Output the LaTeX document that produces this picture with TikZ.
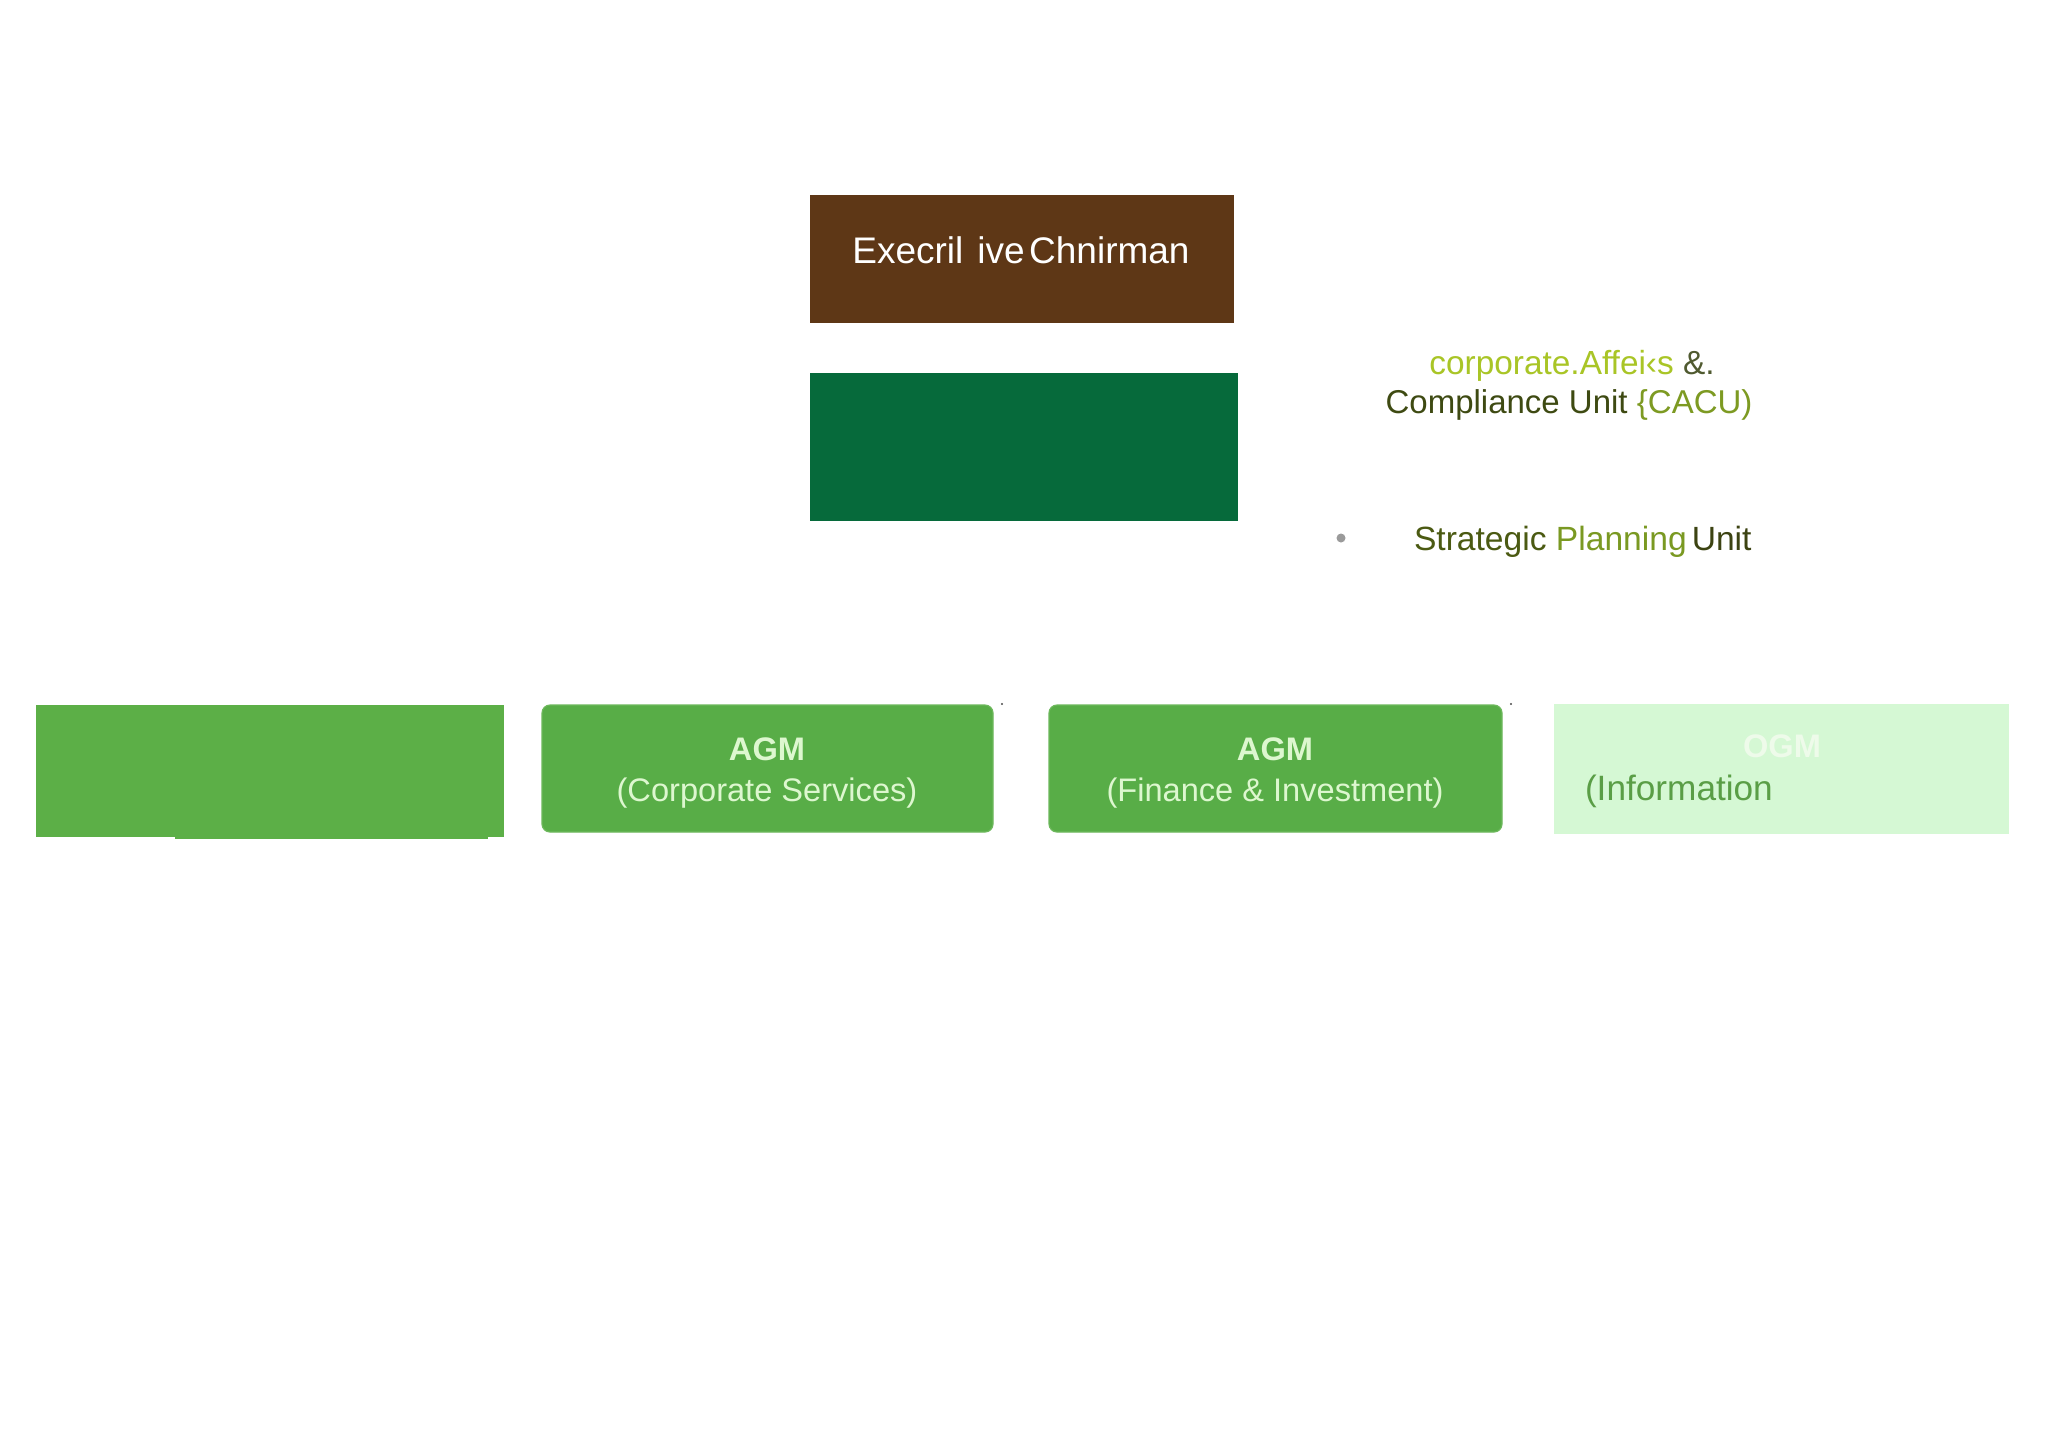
\documentclass[tikz,border=0pt]{standalone}
\usepackage{fontspec}
\setmainfont{Liberation Sans}
\definecolor{cbrown}{HTML}{5E3716}
\definecolor{cdkgreen}{HTML}{066A3B}
\definecolor{cgreenA}{HTML}{5CAF47}
\definecolor{cgreenB}{HTML}{58AD47}
\definecolor{cgreenBd}{HTML}{6DB85C}
\definecolor{cpale}{HTML}{D5F8D4}
\definecolor{cagmtext}{HTML}{DDF7CF}
\definecolor{cogm}{HTML}{EEFBEA}
\definecolor{cinfo}{HTML}{5A9E46}
\definecolor{cyg}{HTML}{A9C526}
\definecolor{camp}{HTML}{505A30}
\definecolor{cdkolive}{HTML}{3E4A12}
\definecolor{colive}{HTML}{7D9A22}
\definecolor{cstrat}{HTML}{4B5A12}
\definecolor{cplan}{HTML}{7A9922}
\definecolor{cunit}{HTML}{3C4312}
\definecolor{cbullet}{HTML}{9A9A9A}
\tikzset{
  flatbox/.style={rectangle, draw=none, inner sep=0pt, outer sep=0pt},
  agmbox/.style={rectangle, rounded corners=4pt, fill=cgreenB, draw=cgreenBd, line width=0.6pt, inner sep=0pt, outer sep=0pt},
  txt/.style={inner sep=0pt, outer sep=0pt, anchor=base},
  agmtxt/.style={txt, text=cagmtext, font=\fontsize{16.3}{19}\selectfont},
}
\begin{document}
\begin{tikzpicture}[x=0.5pt, y=-0.5pt]
\useasboundingbox[fill=white] (0,0) rectangle (2048,1447);
% top boxes
\node[flatbox, fill=cbrown, minimum width=212pt, minimum height=64pt] (chair) at (1022,259) {};
\node[txt, text=white, font=\fontsize{18.5}{22}\selectfont] (chairtxt) at (1021,263) {Execril\hspace{0.38em}ive\hspace{0.12em}Chnirman};
\node[flatbox, fill=cdkgreen, minimum width=214pt, minimum height=74pt] (gm) at (1024,447) {};
% side units
\node[txt, font=\fontsize{16.7}{19}\selectfont] (cacu1) at (1572,374) {\textcolor{cyg}{corporate.Affei‹s} \textcolor{camp}{\&.}};
\node[txt, font=\fontsize{16.5}{19}\selectfont] (cacu2) at (1569,413) {\textcolor{cdkolive}{Compliance Unit} \textcolor{colive}{\{CACU)}};
\node[circle, fill=cbullet, inner sep=0pt, minimum size=4.5pt] (bullet) at (1341,538) {};
\node[txt, anchor=base west, font=\fontsize{16.8}{19}\selectfont] (spu) at (1414,550) {\textcolor{cstrat}{Strategic} \textcolor{cplan}{Planning}\hspace{0.15em}\textcolor{cunit}{Unit}};
% bottom row
\node[flatbox, fill=cgreenA, minimum width=234pt, minimum height=66pt] (b1) at (270,771) {};
\fill[cgreenA] (175,836) rectangle (488,839);
\node[agmbox, minimum width=225.5pt, minimum height=63.5pt] (b2) at (767.5,768.5) {};
\node[agmtxt, font=\bfseries\fontsize{16.3}{19}\selectfont] (b2a) at (767,760) {AGM};
\node[agmtxt] (b2b) at (767,801) {(Corporate Services)};
\node[agmbox, minimum width=226.5pt, minimum height=63.5pt] (b3) at (1275.5,768.5) {};
\node[agmtxt, font=\bfseries\fontsize{16.3}{19}\selectfont] (b3a) at (1275,760) {AGM};
\node[agmtxt] (b3b) at (1275,801) {(Finance \& Investment)};
\node[flatbox, fill=cpale, minimum width=227.5pt, minimum height=65pt] (b4) at (1781.5,769) {};
\node[txt, text=cogm, font=\bfseries\fontsize{16.3}{19}\selectfont] (b4a) at (1782,757) {OGM};
\node[txt, anchor=base west, text=cinfo, font=\fontsize{17.6}{20}\selectfont] (b4b) at (1585,800) {(Information};
% specks
\fill[black!70] (1002,704) circle (0.6pt);
\fill[black!70] (1511,704) circle (0.6pt);
\end{tikzpicture}
\end{document}
